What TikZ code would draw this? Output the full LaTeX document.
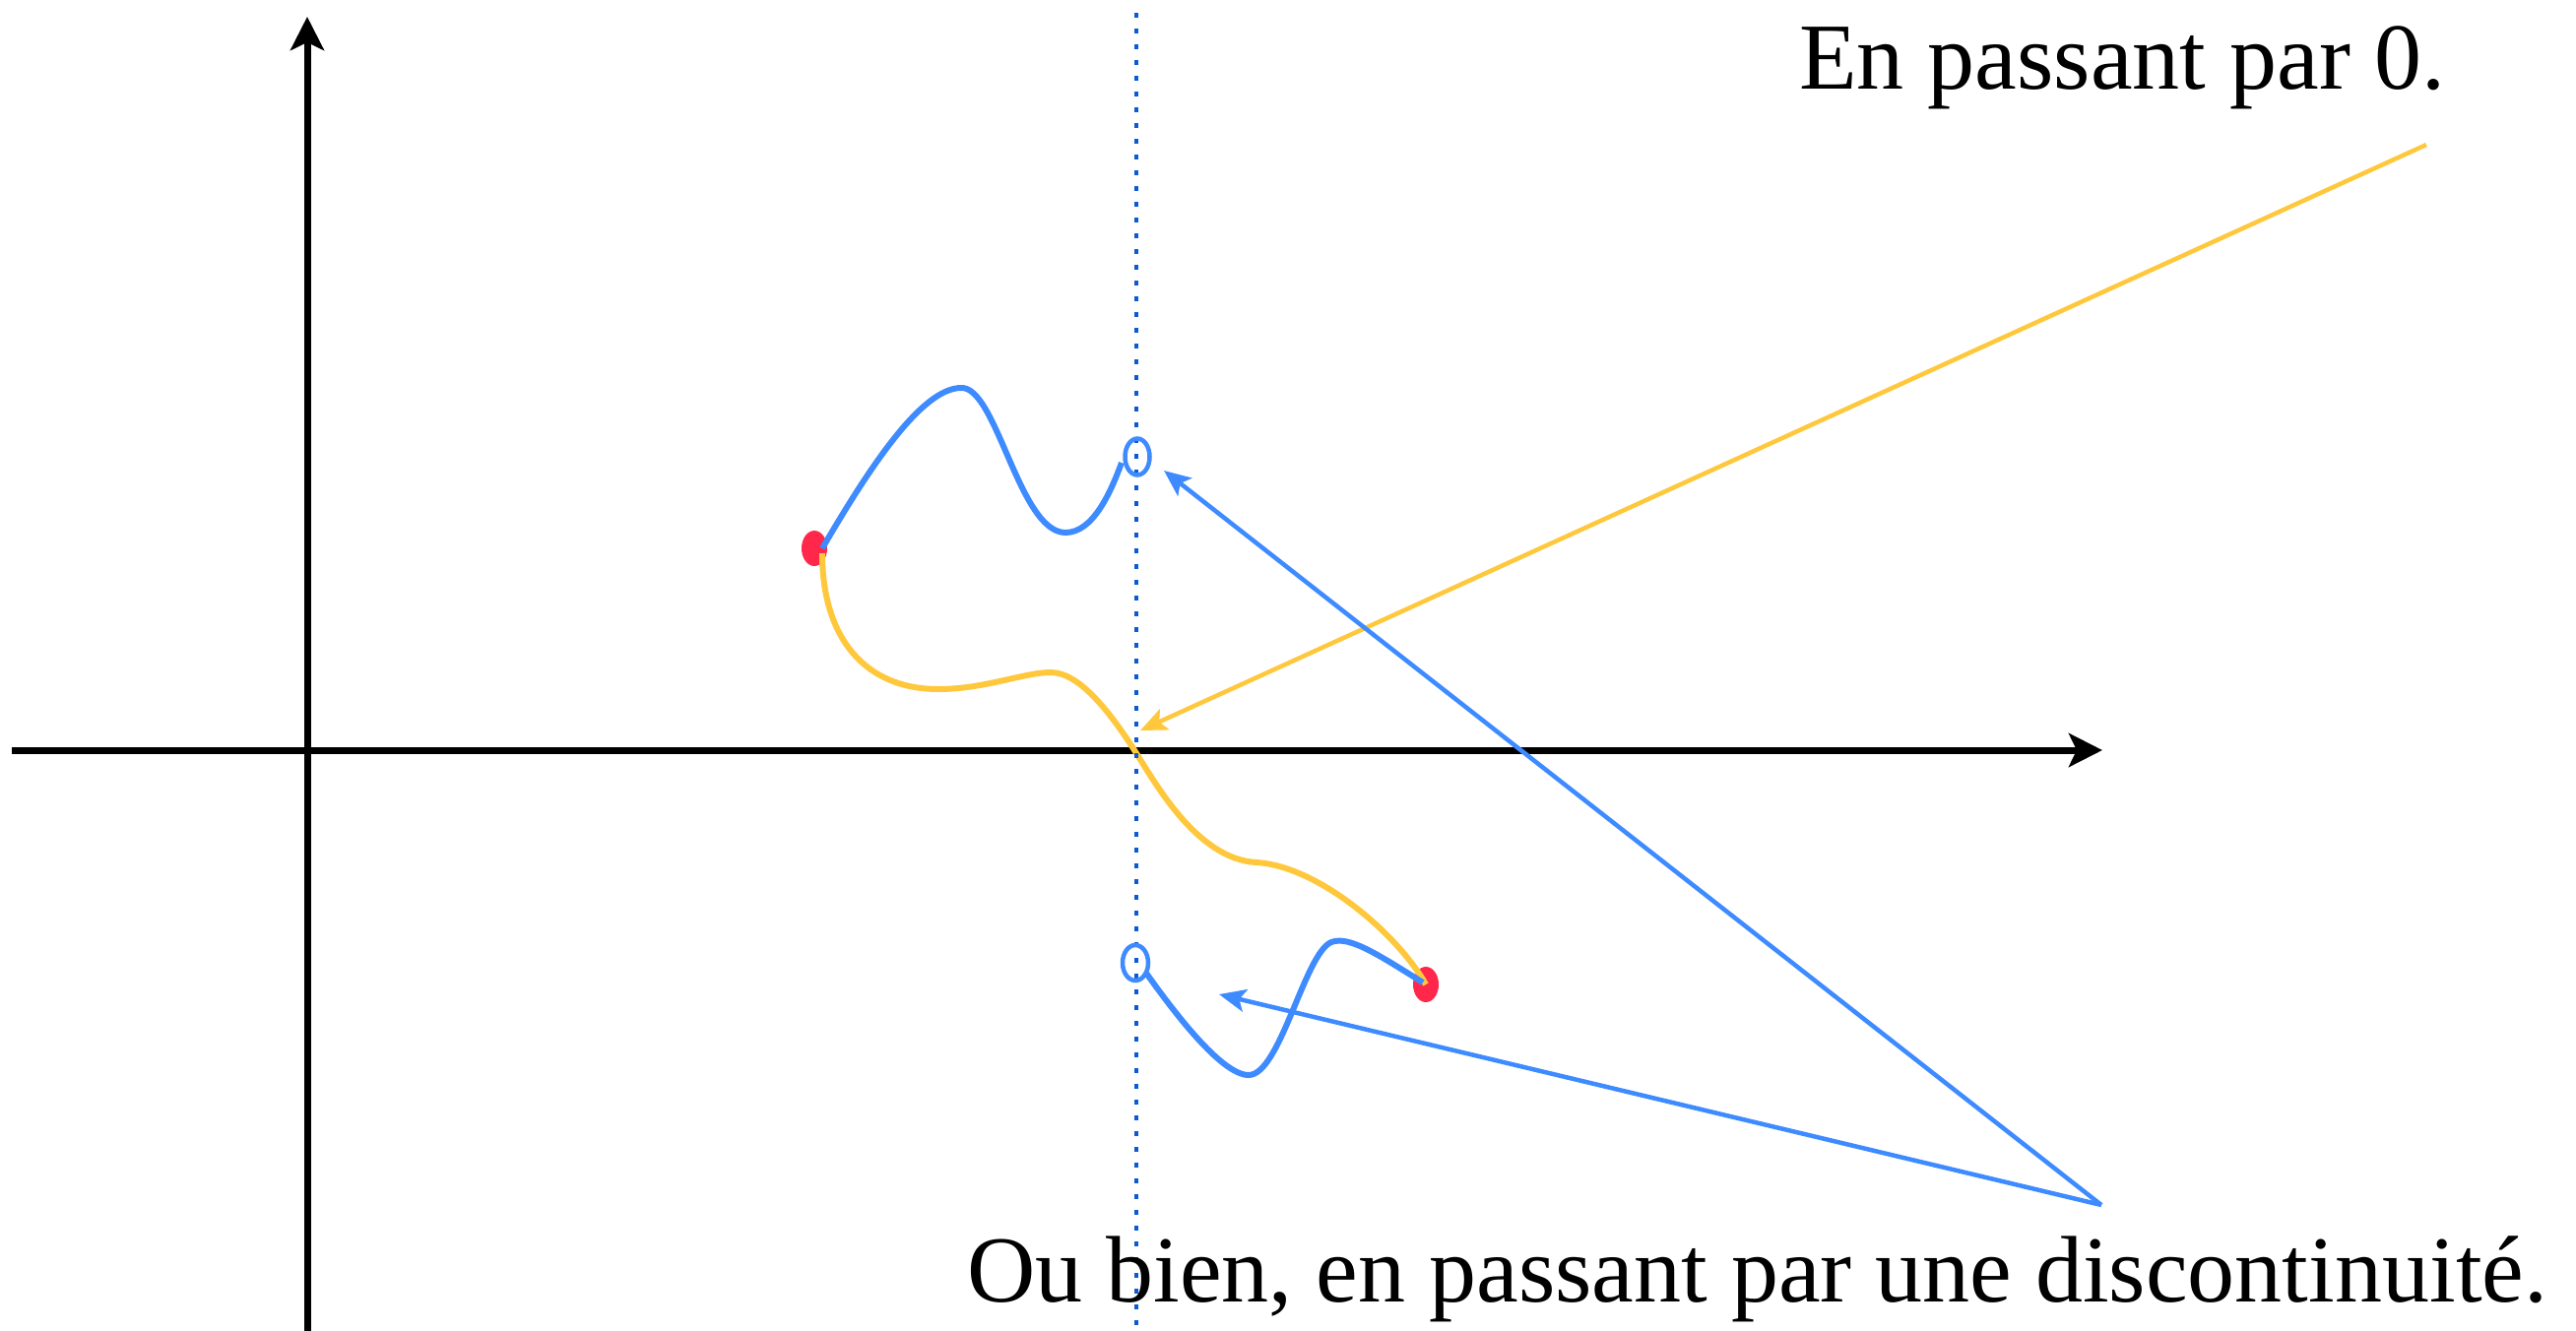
\documentclass[tikz,border=0pt]{standalone}
\usepackage{fontspec}
\setmainfont{Liberation Serif}
\usetikzlibrary{arrows.meta}
\definecolor{curveblue}{RGB}{62,139,255}
\definecolor{dotblue}{RGB}{10,90,215}
\definecolor{curveyellow}{RGB}{255,200,60}
\definecolor{dotred}{RGB}{255,40,75}
\tikzset{
  axis/.style={line width=7pt, black, -{Stealth[length=34pt, width=34pt, inset=8pt]}},
  bluecurve/.style={line width=6pt, curveblue},
  yellowcurve/.style={line width=6pt, curveyellow},
  pointer/.style={line width=4.5pt, -{Stealth[length=27pt, width=23pt, inset=6pt]}},
  label/.style={anchor=base west, inner sep=0pt, font=\fontsize{96}{110}\selectfont},
  hole/.style={line width=4.5pt, curveblue},
}
\begin{document}
\begin{tikzpicture}[x=1pt, y=-1pt]
\useasboundingbox (0,0) rectangle (2616,1352);
% axes
\coordinate (xs) at (12,762);
\coordinate (xe) at (2135,762);
\coordinate (ys) at (312,1352);
\coordinate (ye) at (312,17);
\draw[axis] (xs) -- (xe);
\draw[axis] (ys) -- (ye);
% red points
\coordinate (A) at (827,557);
\coordinate (B) at (1448,1000);
\fill[dotred] (A) ellipse [x radius=13pt, y radius=18pt];
\fill[dotred] (B) ellipse [x radius=13pt, y radius=18pt];
% yellow path through 0
\draw[yellowcurve] (835,562) .. controls (835,650) and (880,700) .. (953,700)
  .. controls (1000,700) and (1040,683) .. (1067,683)
  .. controls (1095,683) and (1125,720) .. (1152,762)
  .. controls (1172,793) and (1215,873) .. (1276,876)
  .. controls (1340,880) and (1420,950) .. (1448,1000);
% dotted vertical line
\coordinate (dt) at (1154,13);
\coordinate (db) at (1154,1352);
\draw[dotblue, line width=4.5pt, dash pattern=on 4.5pt off 11.5pt] (dt) -- (db);
% upper blue path
\draw[bluecurve] (835,557) .. controls (880,480) and (935,394) .. (976,394)
  .. controls (1012,392) and (1035,541) .. (1082,541)
  .. controls (1110,541) and (1128,500) .. (1139,470);
\coordinate (H1) at (1155,464);
\draw[hole] (H1) ellipse [x radius=12.5pt, y radius=18.5pt];
% lower blue path
\draw[bluecurve] (1445,998) .. controls (1400,970) and (1370,950) .. (1352,957)
  .. controls (1325,968) and (1300,1092) .. (1268,1092)
  .. controls (1240,1092) and (1190,1025) .. (1163,987);
\coordinate (H2) at (1153,978);
\draw[hole] (H2) ellipse [x radius=13pt, y radius=18pt];
% labels
\node[label] (t1) at (1827,90) {En passant par 0.};
\node[label] (t2) at (982,1322) {Ou bien, en passant par une discontinuit\'e.};
% pointers
\coordinate (ys0) at (2464,147);
\coordinate (yt) at (1158,742);
\draw[pointer, curveyellow] (ys0) -- (yt);
\coordinate (bs) at (2134,1224);
\coordinate (bt1) at (1182,478);
\coordinate (bt2) at (1238,1010);
\draw[pointer, curveblue] (bs) -- (bt1);
\draw[pointer, curveblue] (bs) -- (bt2);
\end{tikzpicture}
\end{document}
